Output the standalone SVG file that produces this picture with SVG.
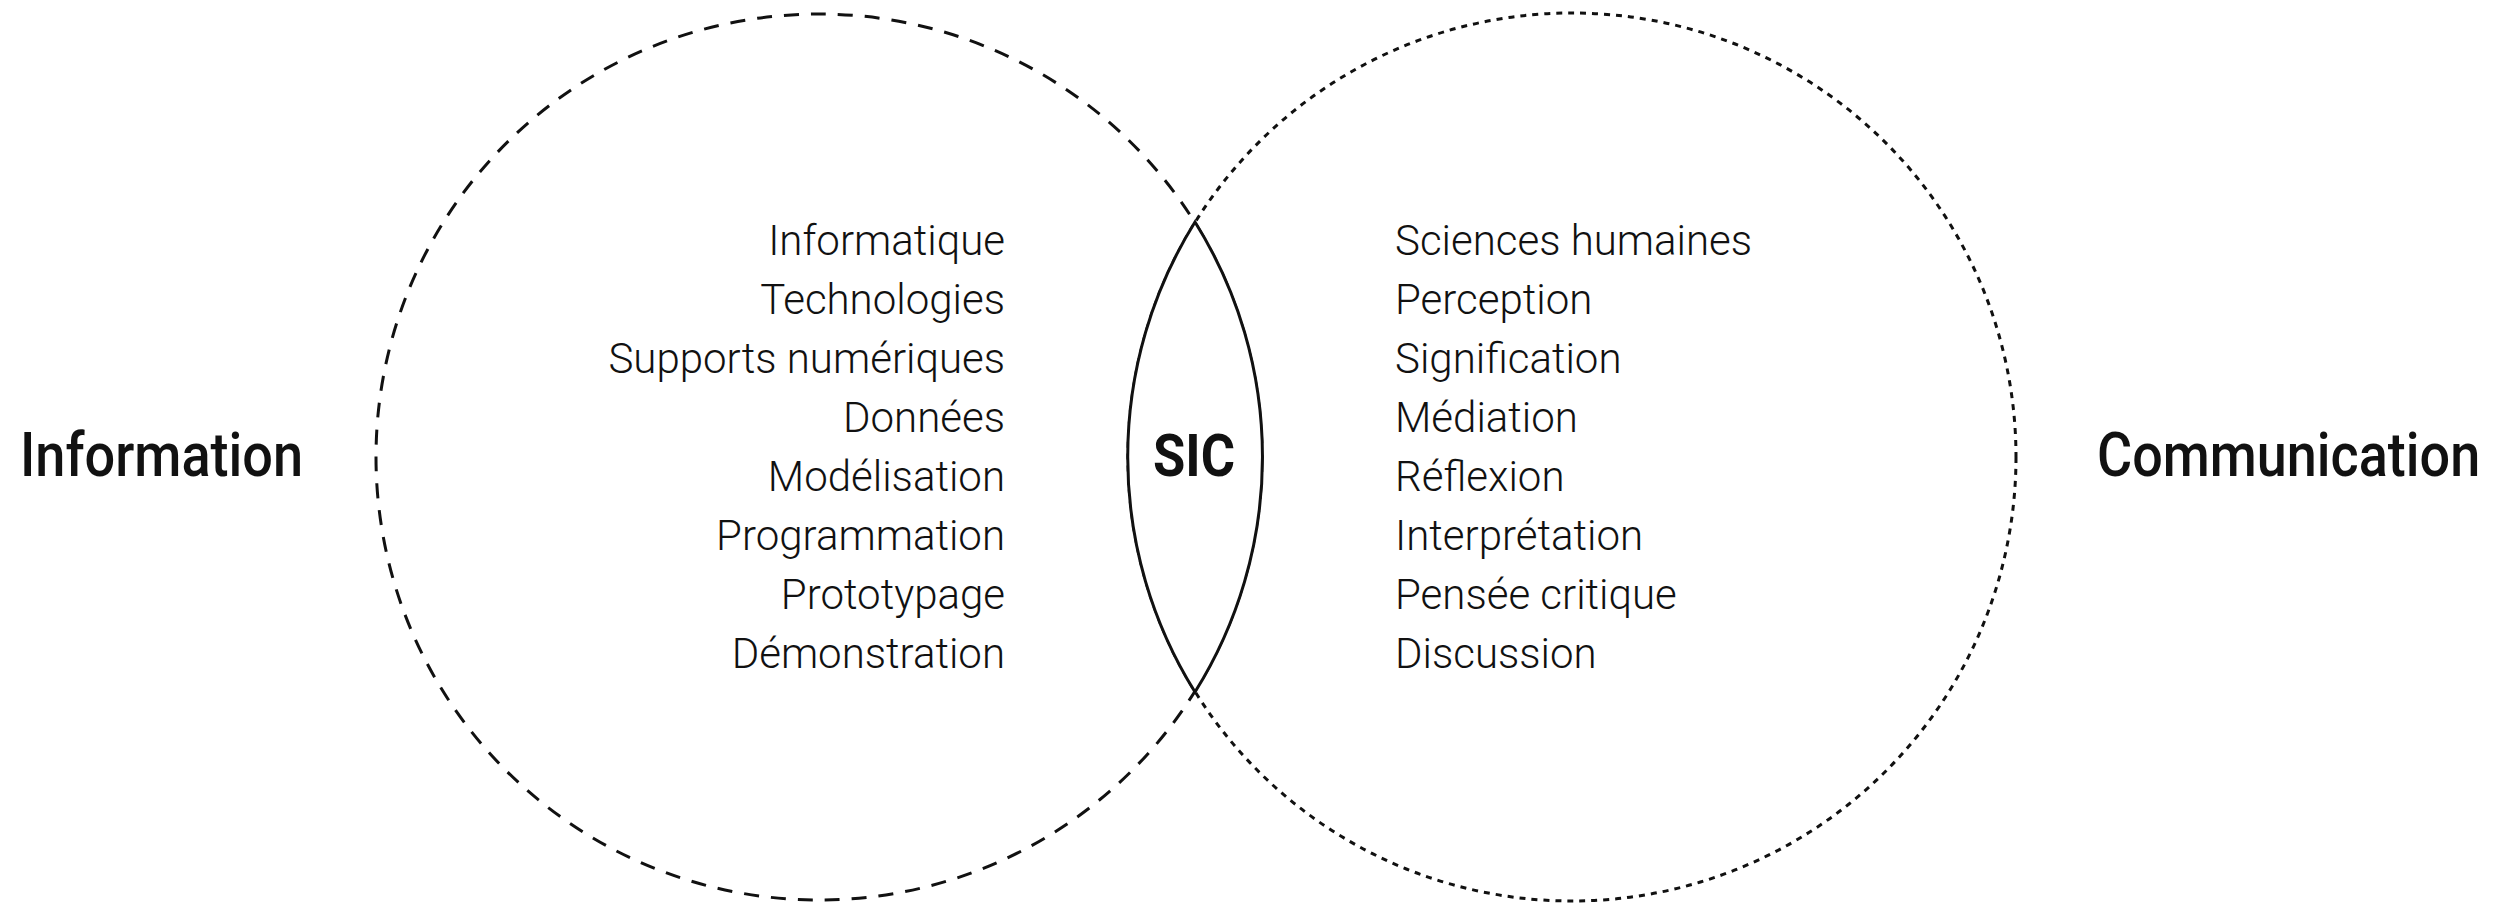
<svg xmlns="http://www.w3.org/2000/svg" width="2517" height="907" viewBox="0 0 2517 907">
<style>
.item{font-family:Roboto,"Liberation Sans",sans-serif;font-weight:300;font-size:42px;fill:#111}
.big{font-family:Roboto,"Liberation Sans",sans-serif;font-weight:500;font-size:61px;fill:#111}
.sic{font-family:Roboto,"Liberation Sans",sans-serif;font-weight:700;font-size:60px;fill:#111}
.c1{fill:none;stroke:#111;stroke-width:3;stroke-dasharray:15 12}
.c2{fill:none;stroke:#111;stroke-width:3;stroke-dasharray:6 6}
.lens{fill:#fff;stroke:#111;stroke-width:3}
</style>
<rect width="2517" height="907" fill="#fff"/>
<g id="circles">
<circle id="info-circle" class="c1" cx="819" cy="457" r="443"/>
<circle id="comm-circle" class="c2" cx="1572" cy="457" r="444"/>
</g>
<g id="sic">
<path class="lens" d="M1195,222 A443,443 0 0 1 1195,692 A444,444 0 0 1 1195,222 Z"/>
<text class="sic" x="1194" y="476" text-anchor="middle" textLength="82" lengthAdjust="spacingAndGlyphs">SIC</text>
</g>
<g id="information" transform="translate(20,476) scale(0.893,1)">
<text class="big" x="0" y="0" textLength="317" lengthAdjust="spacingAndGlyphs">Information</text>
</g>
<g id="communication" transform="translate(2097,476) scale(0.887,1)">
<text class="big" x="0" y="0" textLength="432" lengthAdjust="spacingAndGlyphs">Communication</text>
</g>
<g id="info-list" text-anchor="end">
<text class="item" x="1005" y="255">Informatique</text>
<text class="item" x="1005" y="314">Technologies</text>
<text class="item" x="1005" y="373">Supports numériques</text>
<text class="item" x="1005" y="432">Données</text>
<text class="item" x="1005" y="491">Modélisation</text>
<text class="item" x="1005" y="550">Programmation</text>
<text class="item" x="1005" y="609">Prototypage</text>
<text class="item" x="1005" y="668">Démonstration</text>
</g>
<g id="comm-list">
<text class="item" x="1395" y="255">Sciences humaines</text>
<text class="item" x="1395" y="314">Perception</text>
<text class="item" x="1395" y="373">Signification</text>
<text class="item" x="1395" y="432">Médiation</text>
<text class="item" x="1395" y="491">Réflexion</text>
<text class="item" x="1395" y="550">Interprétation</text>
<text class="item" x="1395" y="609">Pensée critique</text>
<text class="item" x="1395" y="668">Discussion</text>
</g>
</svg>
